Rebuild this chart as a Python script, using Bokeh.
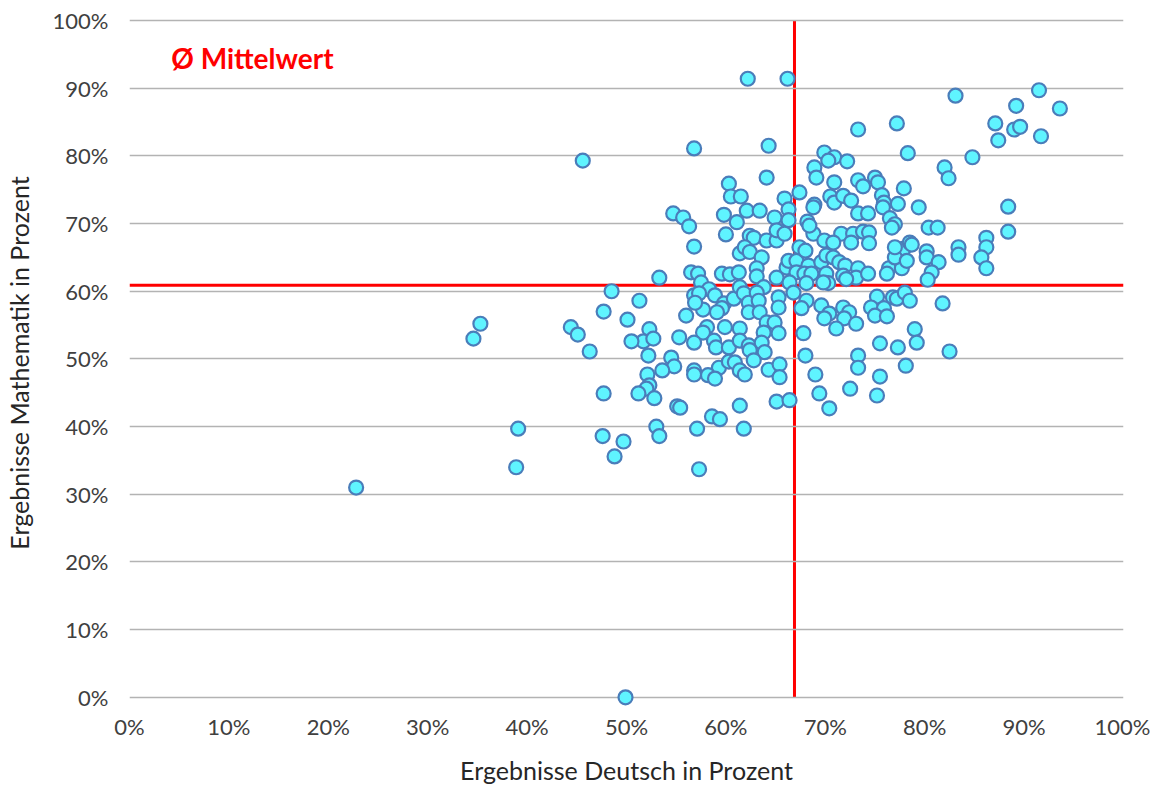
from bokeh.plotting import figure
from bokeh.models import Label, FixedTicker, PrintfTickFormatter
from bokeh.embed import file_html
from bokeh.resources import INLINE

# ---------------- data (percent) ----------------
deutsch = [
    62.2, 66.2, 56.8, 64.3, 64.1, 60.3, 60.5, 61.5, 65.9, 67.4,
    54.7, 55.7, 56.3, 59.8, 61.1, 62.1, 63.4, 64.9, 66.3, 66.3,
    60.0, 56.8, 62.4, 62.8, 61.4, 61.9, 62.4, 63.6, 64.1, 65.1,
    65.1, 65.9, 63.1, 66.1, 66.3, 67.1, 68.3, 67.4, 68.0, 68.8,
    68.2, 68.4, 69.9, 70.9, 70.3, 72.2, 68.9, 69.1, 73.3, 77.2,
    78.3, 70.9, 73.3, 73.8, 75.0, 75.3, 77.9, 70.5, 70.9, 71.8,
    72.6, 75.7, 75.9, 75.8, 77.3, 68.9, 68.8, 73.3, 74.3, 76.5,
    77.0, 76.7, 71.6, 72.8, 73.8, 74.4, 69.9, 70.8, 72.6, 74.4,
    77.9, 78.5, 69.6, 70.1, 70.8, 71.4, 72.0, 73.3, 76.4, 77.7,
    77.0, 77.0,
    83.1, 91.5, 89.2, 93.6, 87.1, 89.0, 89.6, 87.4, 91.7, 84.8,
    82.0, 82.4, 79.4, 88.4, 80.4, 81.3, 88.4, 86.2, 86.2, 85.7,
    86.2, 83.4, 83.4, 78.7, 80.2, 80.2, 81.4, 78.2,
    53.3, 56.5, 57.2, 59.6, 60.4, 61.3, 57.5, 58.3, 56.8, 57.3,
    58.9, 59.8, 59.6, 57.7, 59.1, 56.9, 60.8, 61.4, 61.8, 62.3,
    62.3, 51.3, 56.0, 58.1, 57.7, 59.9, 61.4, 52.3, 51.7, 52.7,
    55.3, 56.8, 58.8, 59.0, 60.3, 61.4, 62.3, 52.2, 54.5, 54.8,
    53.6, 59.3, 60.3, 60.9, 61.4, 61.9, 56.8, 56.8, 58.2, 58.9,
    52.1, 52.3, 52.0, 52.8, 51.2, 55.1, 55.4, 58.6, 59.4, 61.4,
    53.0, 53.3, 57.1, 61.8, 57.3,
    48.5, 47.7, 50.1, 44.4, 45.1, 50.5, 46.3, 47.7, 47.6, 49.7,
    48.8,
    63.1, 65.1, 67.1, 67.9, 68.6, 70.1, 71.8, 73.1, 72.1, 70.3,
    68.1, 66.4, 69.8, 63.8, 63.1, 63.3, 63.4, 65.3, 65.3, 66.8,
    68.1, 67.6, 69.6, 70.4, 69.9, 71.8, 72.4, 71.9, 73.1, 71.1,
    64.1, 64.9, 65.3, 63.8, 67.8, 63.6, 63.9, 62.4, 62.8, 64.3,
    65.4, 65.4, 68.0, 73.3, 73.3, 69.0, 69.4, 72.5, 70.4, 65.1,
    66.4,
    74.3, 76.2, 80.7, 80.3, 75.2, 76.8, 77.2, 78.0, 78.5, 74.6,
    75.9, 75.0, 76.2, 81.8, 79.0, 79.2, 75.5, 77.3, 82.5, 78.1,
    75.5, 75.2,
    22.8, 49.9, 34.6, 35.3, 39.1, 38.9, 45.6,
]
mathe = [
    91.4, 91.4, 81.1, 81.5, 76.8, 75.9, 74.0, 74.0, 73.7, 74.6,
    71.5, 70.9, 69.6, 71.3, 70.2, 71.9, 71.9, 70.9, 72.1, 70.5,
    68.4, 66.6, 68.2, 67.9, 65.6, 66.5, 65.8, 65.0, 67.5, 67.5,
    69.0, 68.5, 63.4, 63.5, 64.5, 64.5, 63.8, 66.5, 66.0, 68.5,
    70.3, 69.7, 80.5, 79.8, 79.3, 79.2, 78.3, 76.8, 83.9, 84.8,
    80.4, 76.1, 76.4, 75.5, 76.8, 76.1, 75.2, 74.0, 73.1, 74.1,
    73.4, 74.2, 73.1, 72.4, 72.9, 72.8, 72.4, 71.5, 71.5, 70.8,
    69.9, 69.4, 68.5, 68.5, 68.8, 68.7, 67.5, 67.2, 67.2, 67.1,
    66.3, 67.2, 64.3, 65.3, 65.0, 64.3, 63.8, 63.4, 63.4, 63.4,
    65.0, 66.5,
    88.9, 89.7, 87.4, 87.0, 84.8, 83.9, 84.3, 82.3, 82.9, 79.8,
    78.3, 76.7, 72.4, 72.5, 69.4, 69.4, 68.8, 67.9, 66.5, 65.0,
    63.4, 66.5, 65.4, 66.9, 65.9, 65.0, 64.3, 64.5,
    62.0, 62.8, 62.6, 62.6, 62.5, 62.8, 61.3, 60.3, 59.4, 59.7,
    59.4, 58.2, 57.5, 57.3, 56.9, 58.3, 58.9, 60.6, 59.7, 58.3,
    56.9, 58.6, 56.4, 54.7, 53.9, 54.7, 54.5, 54.4, 52.6, 53.0,
    53.2, 52.4, 52.7, 51.7, 51.7, 52.7, 52.0, 50.5, 50.2, 48.9,
    48.3, 48.7, 49.6, 49.5, 48.3, 47.7, 48.3, 47.7, 47.6, 47.1,
    47.7, 46.1, 45.6, 44.2, 44.9, 43.0, 42.8, 41.5, 41.1, 43.1,
    40.0, 38.6, 39.7, 39.7, 33.7,
    60.0, 57.0, 55.8, 54.7, 53.6, 52.6, 51.1, 44.9, 38.6, 37.8,
    35.6,
    62.2, 62.0, 62.8, 62.6, 62.6, 62.6, 62.3, 62.0, 61.8, 61.2,
    61.2, 61.3, 61.3, 60.6, 59.8, 58.6, 56.9, 59.1, 57.6, 59.8,
    58.6, 57.5, 57.9, 56.7, 56.0, 57.6, 56.9, 56.0, 55.2, 54.5,
    55.4, 55.4, 53.8, 53.9, 53.8, 52.4, 51.0, 51.3, 49.8, 48.4,
    49.2, 47.3, 50.5, 50.5, 48.7, 47.7, 44.9, 45.6, 42.7, 43.7,
    43.9,
    62.6, 62.6, 62.8, 61.7, 59.2, 59.1, 58.9, 59.8, 58.6, 57.6,
    57.5, 56.4, 56.3, 58.2, 54.4, 52.4, 52.3, 51.7, 51.1, 49.0,
    47.4, 44.6,
    31.0, 0.0, 53.0, 55.2, 39.7, 34.0, 79.3,
]
mittel_deutsch = 66.9
mittel_mathe = 60.9
ticks = [0, 10, 20, 30, 40, 50, 60, 70, 80, 90, 100]
achse_min, achse_max = 0, 100
mittel_label = "Ø Mittelwert"
x_title = "Ergebnisse Deutsch in Prozent"
y_title = "Ergebnisse Mathematik in Prozent"

FONT = "Lato"
TXT = "#404040"

p = figure(
    frame_width=994, frame_height=689,
    x_range=(0, 100), y_range=(-1.5, 100.3),
    output_backend="svg", toolbar_location=None,
    min_border_left=128, min_border_right=27, min_border_top=18, min_border_bottom=82,
    background_fill_color="white", border_fill_color="white",
)
p.outline_line_color = None

# grid: horizontal only
p.xgrid.visible = False
p.ygrid.ticker = FixedTicker(ticks=ticks)
p.ygrid.grid_line_color = "#B3B3B3"
p.ygrid.grid_line_width = 1.4

for ax in (p.xaxis[0], p.yaxis[0]):
    ax.ticker = FixedTicker(ticks=ticks)
    ax.formatter = PrintfTickFormatter(format="%d%%")
    ax.axis_line_color = None
    ax.major_tick_line_color = None
    ax.minor_tick_line_color = None
    ax.major_tick_out = 0
    ax.major_tick_in = 0
    ax.minor_tick_out = 0
    ax.major_label_text_font = FONT
    ax.major_label_text_font_size = "22px"
    ax.major_label_text_color = TXT
    ax.axis_label_text_font = FONT
    ax.axis_label_text_font_size = "25px"
    ax.axis_label_text_font_style = "normal"
    ax.axis_label_text_color = "#262626"

p.xaxis.axis_label = x_title
p.yaxis.axis_label = y_title
p.xaxis.major_label_standoff = 5
p.xaxis.axis_label_standoff = 12
p.yaxis.major_label_standoff = 21
p.yaxis.axis_label_standoff = 16

# mean lines (under the points)
p.segment(x0=[mittel_deutsch], y0=[achse_min], x1=[mittel_deutsch], y1=[achse_max],
          line_color="#FF0000", line_width=3, level="underlay")
p.segment(x0=[achse_min], y0=[mittel_mathe], x1=[achse_max], y1=[mittel_mathe],
          line_color="#FF0000", line_width=3, level="underlay")

p.scatter(deutsch, mathe, size=14, marker="circle",
          fill_color="#5FF4FF", line_color="#4A7DBA", line_width=2.2)

p.add_layout(Label(x=4.2, y=94.5, text=mittel_label, text_baseline="middle",
                   text_font=FONT, text_font_style="bold", text_font_size="28px",
                   text_color="#FF0000"))

open("out.html", "w").write(file_html(p, INLINE))
